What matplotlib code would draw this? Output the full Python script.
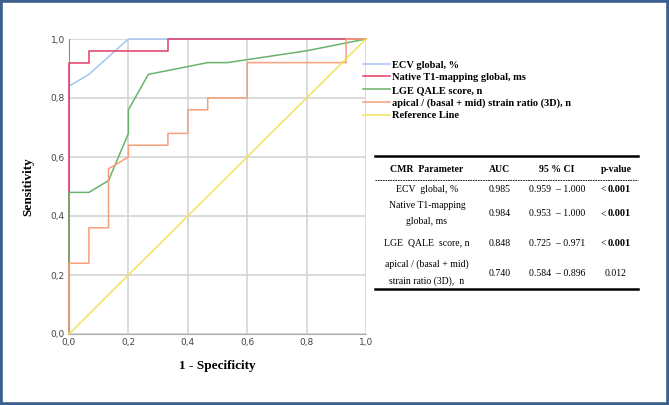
import matplotlib.pyplot as plt
from matplotlib.lines import Line2D
from matplotlib.patches import Rectangle

# ROC curves (1 - specificity, sensitivity)
ecv_x = [0.0, 0.0, 0.067, 0.2, 1.0]
ecv_y = [0.0, 0.84, 0.88, 1.0, 1.0]
t1_x = [0.0, 0.0, 0.067, 0.067, 0.333, 0.333, 1.0]
t1_y = [0.0, 0.92, 0.92, 0.96, 0.96, 1.0, 1.0]
lge_x = [0.0, 0.0, 0.067, 0.133, 0.2, 0.2, 0.267, 0.467, 0.533, 0.8, 1.0]
lge_y = [0.0, 0.48, 0.48, 0.52, 0.68, 0.76, 0.88, 0.92, 0.92, 0.96, 1.0]
apr_x = [0.0, 0.0, 0.067, 0.067, 0.133, 0.133, 0.2, 0.2, 0.333, 0.333, 0.4, 0.4,
         0.467, 0.467, 0.6, 0.6, 0.933, 0.933, 1.0]
apr_y = [0.0, 0.24, 0.24, 0.36, 0.36, 0.56, 0.6, 0.64, 0.64, 0.68, 0.68, 0.76,
         0.76, 0.8, 0.8, 0.92, 0.92, 1.0, 1.0]
ref_x = [0.0, 1.0]
ref_y = [0.0, 1.0]

labels = ['ECV global, %', 'Native T1-mapping global, ms', 'LGE QALE score, n',
          'apical / (basal + mid) strain ratio (3D), n', 'Reference Line']
colors = ['#a3c6f2', '#e23d66', '#6ab36a', '#f6a07a', '#f0e458']

ticks = [0.0, 0.2, 0.4, 0.6, 0.8, 1.0]
tick_labels = ['0,0', '0,2', '0,4', '0,6', '0,8', '1,0']

# table
tbl_header = ['CMR  Parameter', 'AUC', '95 % CI', 'p-value']
tbl_param = ['ECV  global, %', 'Native T1-mapping\nglobal, ms', 'LGE  QALE  score, n',
             'apical / (basal + mid)\nstrain ratio (3D),  n']
tbl_auc = ['0.985', '0.984', '0.848', '0.740']
tbl_ci = ['0.959  \u2013 1.000', '0.953  \u2013 1.000', '0.725  \u2013 0.971', '0.584  \u2013 0.896']
tbl_p = ['< 0.001', '< 0.001', '< 0.001', '0.012']

W, H = 669, 405
fig = plt.figure(figsize=(W / 100, H / 100), dpi=100)


def px(x, y):
    return x / W, 1 - y / H


ax = fig.add_axes([69 / W, 1 - 334 / H, 297 / W, 295 / H])
series = [(ecv_x, ecv_y), (t1_x, t1_y), (lge_x, lge_y), (apr_x, apr_y), (ref_x, ref_y)]
handles = []
for i, (xs, ys) in enumerate(series):
    h, = ax.plot(xs, ys, color=colors[i], lw=1.1, label=labels[i],
                 zorder=3 + i, clip_on=False)
    handles.append(h)

ax.set_xlim(0, 1)
ax.set_ylim(0, 1)
ax.set_xticks(ticks)
ax.set_yticks(ticks)
ax.set_xticklabels(tick_labels)
ax.set_yticklabels(tick_labels)
ax.tick_params(length=0, labelsize=6.5, colors='#444444', pad=3)
ax.grid(True, color='#d4d4d4', lw=1.2)
ax.set_axisbelow(True)
for s in ['top', 'right']:
    ax.spines[s].set_visible(False)
ax.spines['left'].set_color('#888888')
ax.spines['bottom'].set_color('#aaaaaa')

serif = 'Liberation Serif'
ax.set_xlabel('1 - Specificity', fontfamily=serif, fontweight='bold', fontsize=9.5, labelpad=9)
ax.set_ylabel('Sensitivity', fontfamily=serif, fontweight='bold', fontsize=9.5, labelpad=12)

ax.legend(handles=handles, labels=labels, loc='upper left',
          bbox_to_anchor=px(358, 55), bbox_transform=fig.transFigure, frameon=False,
          prop={'family': serif, 'weight': 'bold', 'size': 7.5},
          handlelength=2.6, handletextpad=0.15, labelspacing=0.32, borderpad=0)

# table drawn in figure pixels
x0, x1 = 375, 638
col_x = [427, 500, 557, 616]
fig.add_artist(Line2D([x0 / W, x1 / W], [1 - 156 / H] * 2, color='black', lw=1.8))
fig.add_artist(Line2D([x0 / W, x1 / W], [1 - 180 / H] * 2, color='black', lw=0.6, ls=(0, (2, 1))))
fig.add_artist(Line2D([x0 / W, x1 / W], [1 - 289 / H] * 2, color='black', lw=1.8))
for cx, h in zip(col_x, tbl_header):
    fig.text(*px(cx, 169), h, ha='center', va='center', fontfamily=serif,
             fontweight='bold', fontsize=7)
row_y = [189, 214, 243, 273]
for ry, prm, auc, ci, p in zip(row_y, tbl_param, tbl_auc, tbl_ci, tbl_p):
    fig.text(*px(col_x[0], ry), prm, ha='center', va='center', fontfamily=serif,
             fontsize=7, linespacing=2.0)
    fig.text(*px(col_x[1], ry), auc, ha='center', va='center', fontfamily=serif, fontsize=7)
    fig.text(*px(col_x[2], ry), ci, ha='center', va='center', fontfamily=serif, fontsize=7)
    if p.startswith('<'):
        fig.text(*px(606, ry), '<', ha='right', va='center', fontfamily=serif, fontsize=7)
        fig.text(*px(608, ry), p[2:], ha='left', va='center', fontfamily=serif,
                 fontweight='bold', fontsize=7.5)
    else:
        fig.text(*px(col_x[3], ry), p, ha='center', va='center', fontfamily=serif, fontsize=7)

fig.add_artist(Rectangle((0.0015, 0.003), 0.997, 0.994, transform=fig.transFigure,
                         fill=False, edgecolor='#3b5f8e', lw=2.6))

fig.savefig('out.png', dpi=100)
